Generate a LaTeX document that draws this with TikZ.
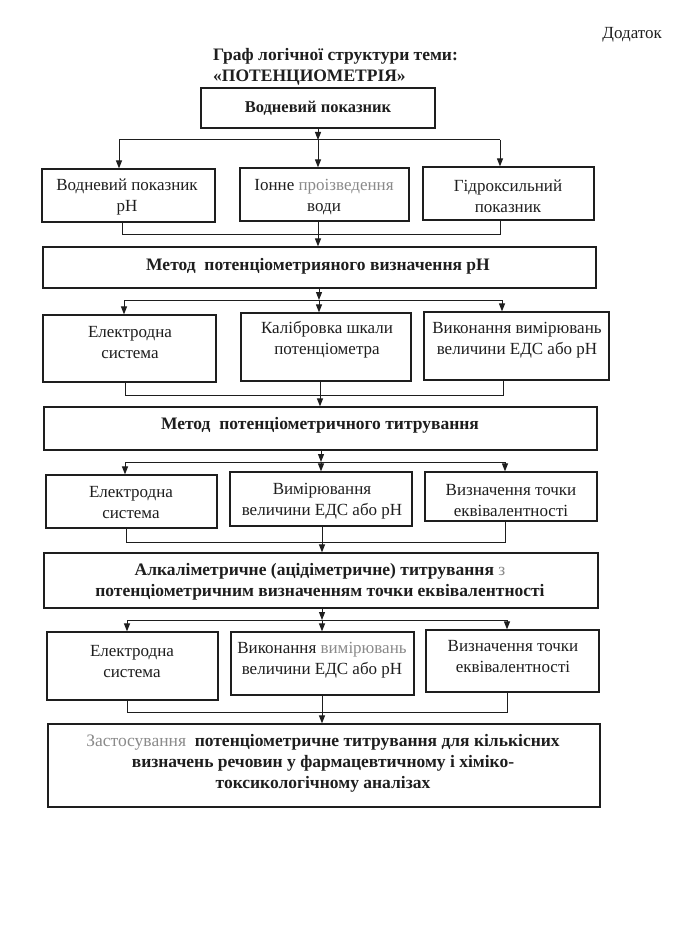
\documentclass[tikz,border=0pt]{standalone}
\usepackage{fontspec}
\setmainfont{Liberation Serif}
\usetikzlibrary{arrows.meta}
\definecolor{ink}{HTML}{1E1E1E}
\definecolor{fade}{HTML}{8A8A8A}
\begin{document}
\begin{tikzpicture}[x=1pt,y=-1pt,
  box/.style={draw=ink, line width=1.2pt, inner sep=0pt},
  txt/.style={align=center, font=\fontsize{17}{21}\selectfont, text=ink, inner sep=0pt},
  btxt/.style={align=center, font=\bfseries\fontsize{17.5}{21}\selectfont, text=ink, inner sep=0pt},
  conn/.style={line width=1pt, draw=ink},
  arr/.style={conn, -{Triangle[length=8pt,width=6pt]}}]
\useasboundingbox[fill=white] (0,0) rectangle (688,944);

% header
\node[txt, anchor=east] (dod) at (662,35) {Додаток};
\node[btxt, anchor=west, align=left] (title) at (213,67) {Граф логічної структури теми:\\«ПОТЕНЦИОМЕТРІЯ»};

% boxes
\node[box, minimum width=234pt, minimum height=40pt] (A) at (318,108) {};
\node[btxt, font=\bfseries\fontsize{16.5}{20}\selectfont] (At) at (318,108) {Водневий показник};

\node[box, minimum width=173pt, minimum height=53pt] (B1) at (128.5,195.5) {};
\node[box, minimum width=169pt, minimum height=53pt] (B2) at (324.5,194.5) {};
\node[box, minimum width=171pt, minimum height=53pt] (B3) at (508.5,193.5) {};
\node[txt] (B1t) at (127,197) {Водневий показник\\pH};
\node[txt] (B2t) at (324,197) {Іонне \textcolor{fade}{проізведення}\\води};
\node[txt] (B3t) at (508,196) {Гідроксильний\\показник};

\node[box, minimum width=553pt, minimum height=41pt] (C) at (319.5,267.5) {};
\node[btxt] (Ct) at (318,266) {Метод\ \ потенціометрияного визначення pH};

\node[box, minimum width=173pt, minimum height=67pt] (D1) at (129.5,348.5) {};
\node[box, minimum width=170pt, minimum height=68pt] (D2) at (326,347) {};
\node[box, minimum width=185pt, minimum height=68pt] (D3) at (516.5,346) {};
\node[txt] (D1t) at (130,343) {Електродна\\система};
\node[txt] (D2t) at (327,340) {Калібровка шкали\\потенціометра};
\node[txt] (D3t) at (517,340) {Виконання вимірювань\\величини ЕДС або pH};

\node[box, minimum width=553pt, minimum height=43pt] (E) at (320.5,428.5) {};
\node[btxt] (Et) at (320,425) {Метод\ \ потенціометричного титрування};

\node[box, minimum width=171pt, minimum height=53pt] (F1) at (131.5,501.5) {};
\node[box, minimum width=182pt, minimum height=54pt] (F2) at (321,499) {};
\node[box, minimum width=172pt, minimum height=49pt] (F3) at (511,496.5) {};
\node[txt] (F1t) at (131,503) {Електродна\\система};
\node[txt] (F2t) at (322,501) {Вимірювання\\величини ЕДС або pH};
\node[txt] (F3t) at (511,501) {Визначення точки\\еквівалентності};

\node[box, minimum width=554pt, minimum height=55pt] (G) at (321,580.5) {};
\node[btxt] (Gt) at (320,582) {Алкаліметричне (ацідіметричне) титрування \textcolor{fade}{\mdseries з}\\потенціометричним визначенням точки еквівалентності};

\node[box, minimum width=171pt, minimum height=68pt] (H1) at (132.5,666) {};
\node[box, minimum width=183pt, minimum height=63pt] (H2) at (322.5,663.5) {};
\node[box, minimum width=173pt, minimum height=62pt] (H3) at (512.5,661) {};
\node[txt] (H1t) at (132,662) {Електродна\\система};
\node[txt] (H2t) at (322,660) {Виконання \textcolor{fade}{вимірювань}\\величини ЕДС або pH};
\node[txt] (H3t) at (513,657) {Визначення точки\\еквівалентності};

\node[box, minimum width=552pt, minimum height=83pt] (I) at (324,765.5) {};
\node[btxt] (It) at (323,763) {\textcolor{fade}{\mdseries Застосування}\ \ потенціометричне титрування для кількісних\\визначень речовин у фармацевтичному і хіміко-\\токсикологічному аналізах};

% connectors: level 1
\coordinate (bus1L) at (119,140); \coordinate (bus1C) at (318,140); \coordinate (bus1R) at (500,140);
\draw[arr] (A.south) -- (bus1C);
\draw[conn] (bus1L) -- (bus1R);
\draw[arr] (bus1L) -- (bus1L |- B1.north);
\draw[arr] (bus1C) -- (bus1C |- B2.north);
\draw[arr] (bus1R) -- (bus1R |- B3.north);
\coordinate (col1L) at (122,234); \coordinate (col1C) at (318,234); \coordinate (col1R) at (500,234);
\draw[conn] (col1L |- B1.south) -- (col1L) -- (col1R) -- (col1R |- B3.south);
\draw[arr] (col1C |- B2.south) -- (col1C |- C.north);

% level 2
\coordinate (bus2L) at (124,300); \coordinate (bus2C) at (319,300); \coordinate (bus2R) at (502,300);
\draw[arr] (bus2C |- C.south) -- (bus2C);
\draw[conn] (bus2L) -- (bus2R);
\draw[arr] (bus2L) -- (bus2L |- D1.north);
\draw[arr] (bus2C) -- (bus2C |- D2.north);
\draw[arr] (bus2R) -- (bus2R |- D3.north);
\coordinate (col2L) at (125,395); \coordinate (col2C) at (320,395); \coordinate (col2R) at (503,395);
\draw[conn] (col2L |- D1.south) -- (col2L) -- (col2R) -- (col2R |- D3.south);
\draw[arr] (col2C |- D2.south) -- (col2C |- E.north);

% level 3
\coordinate (bus3L) at (125,462); \coordinate (bus3C) at (321,462); \coordinate (bus3R) at (505,462);
\draw[arr] (bus3C |- E.south) -- (bus3C);
\draw[conn] (bus3L) -- (bus3R);
\draw[arr] (bus3L) -- (bus3L |- F1.north);
\draw[arr] (bus3C) -- (bus3C |- F2.north);
\draw[arr] (bus3R) -- (bus3R |- F3.north);
\coordinate (col3L) at (126,542); \coordinate (col3C) at (322,542); \coordinate (col3R) at (505,542);
\draw[conn] (col3L |- F1.south) -- (col3L) -- (col3R) -- (col3R |- F3.south);
\draw[arr] (col3C |- F2.south) -- (col3C |- G.north);

% level 4
\coordinate (bus4L) at (127,620); \coordinate (bus4C) at (322,620); \coordinate (bus4R) at (507,620);
\draw[arr] (bus4C |- G.south) -- (bus4C);
\draw[conn] (bus4L) -- (bus4R);
\draw[arr] (bus4L) -- (bus4L |- H1.north);
\draw[arr] (bus4C) -- (bus4C |- H2.north);
\draw[arr] (bus4R) -- (bus4R |- H3.north);
\coordinate (col4L) at (127,712); \coordinate (col4C) at (322,712); \coordinate (col4R) at (507,712);
\draw[conn] (col4L |- H1.south) -- (col4L) -- (col4R) -- (col4R |- H3.south);
\draw[arr] (col4C |- H2.south) -- (col4C |- I.north);
\end{tikzpicture}
\end{document}
